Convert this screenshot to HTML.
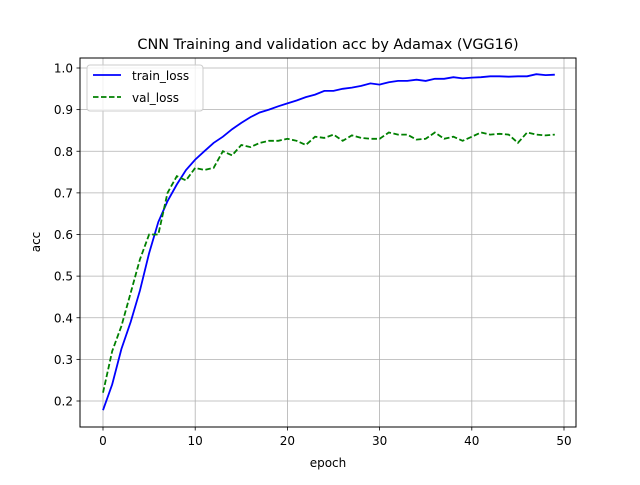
<!DOCTYPE html>
<html><head><meta charset="utf-8"><style>
body{margin:0;background:#fff}
svg text{font-family:"DejaVu Sans","Liberation Sans",sans-serif;fill:#000}
</style></head><body>
<svg id="chart" width="640" height="480">
<rect width="640" height="480" fill="#fff"/>
<text x="328" y="49" font-size="14.4" text-anchor="middle">CNN Training and validation acc by Adamax (VGG16)</text>
<g id="grid"></g><g id="ticks"></g><g id="series"></g>
<rect x="80" y="58" width="496" height="369" fill="none" stroke="#000" stroke-width="1"/>
<text x="328" y="467" font-size="12" text-anchor="middle">epoch</text>
<text x="40" y="242" font-size="12" text-anchor="middle" transform="rotate(-90 40 242)">acc</text>
<g>
<rect x="87" y="65" width="116" height="46" rx="3" fill="#fff" fill-opacity="0.8" stroke="#ccc"/>
<g><line x1="93" y1="75" x2="121" y2="75" stroke="#0000ff" stroke-width="1.8"/><text x="132" y="80" font-size="12">train_loss</text></g>
<g><line x1="93" y1="97" x2="121" y2="97" stroke="#008000" stroke-width="1.8" stroke-dasharray="5.5,2.5"/><text x="132" y="102" font-size="12">val_loss</text></g>
</g>
</svg>
<script>
const trainAcc=[.178,.24,.325,.39,.465,.555,.63,.68,.72,.755,.78,.80,.82,.835,.853,.868,.882,.893,.9,.908,.915,.922,.93,.936,.945,.945,.95,.953,.957,.963,.96,.966,.969,.969,.972,.969,.974,.974,.978,.975,.977,.978,.98,.98,.979,.98,.98,.985,.983,.984];
const valAcc=[.22,.32,.38,.46,.54,.6,.6,.7,.74,.73,.76,.755,.76,.8,.79,.815,.81,.82,.825,.825,.83,.825,.815,.835,.832,.84,.825,.838,.832,.83,.83,.845,.84,.84,.828,.83,.845,.83,.835,.825,.835,.845,.84,.842,.84,.82,.845,.84,.838,.84];
const xTicks=[0,10,20,30,40,50];
const yTicks=[0.2,0.3,0.4,0.5,0.6,0.7,0.8,0.9,1.0];
const NS="http://www.w3.org/2000/svg";
const X=v=>103+v*9.22;
const Y=v=>401-(v-0.2)*416.25;
function mk(t,a,p){const e=document.createElementNS(NS,t);for(const k in a)e.setAttribute(k,a[k]);p.appendChild(e);return e;}
const grid=document.getElementById('grid'),ticks=document.getElementById('ticks'),ser=document.getElementById('series');
xTicks.forEach(t=>{
const g=mk('line',{x1:X(t),x2:X(t),y1:58,y2:427,stroke:'#b0b0b0','stroke-width':0.8},grid);


mk('line',{x1:X(t),x2:X(t),y1:427,y2:430.5,stroke:'#000','stroke-width':0.8},ticks);
const tx=mk('text',{x:X(t),y:445,'font-size':12,'text-anchor':'middle'},ticks);tx.textContent=t;


});
yTicks.forEach(t=>{
const g=mk('line',{x1:80,x2:576,y1:Y(t),y2:Y(t),stroke:'#b0b0b0','stroke-width':0.8},grid);


mk('line',{x1:76.5,x2:80,y1:Y(t),y2:Y(t),stroke:'#000','stroke-width':0.8},ticks);
const tx=mk('text',{x:73,y:Y(t)+4.5,'font-size':12,'text-anchor':'end'},ticks);tx.textContent=t.toFixed(1);


});
const pts=a=>a.map((v,i)=>X(i).toFixed(1)+','+Y(v).toFixed(1)).join(' ');
const l1=mk('polyline',{points:pts(trainAcc),fill:'none',stroke:'#0000ff','stroke-width':1.8},ser);


const l2=mk('polyline',{points:pts(valAcc),fill:'none',stroke:'#008000','stroke-width':1.8,'stroke-dasharray':'5.5,2.5'},ser);


</script>
</body></html>
